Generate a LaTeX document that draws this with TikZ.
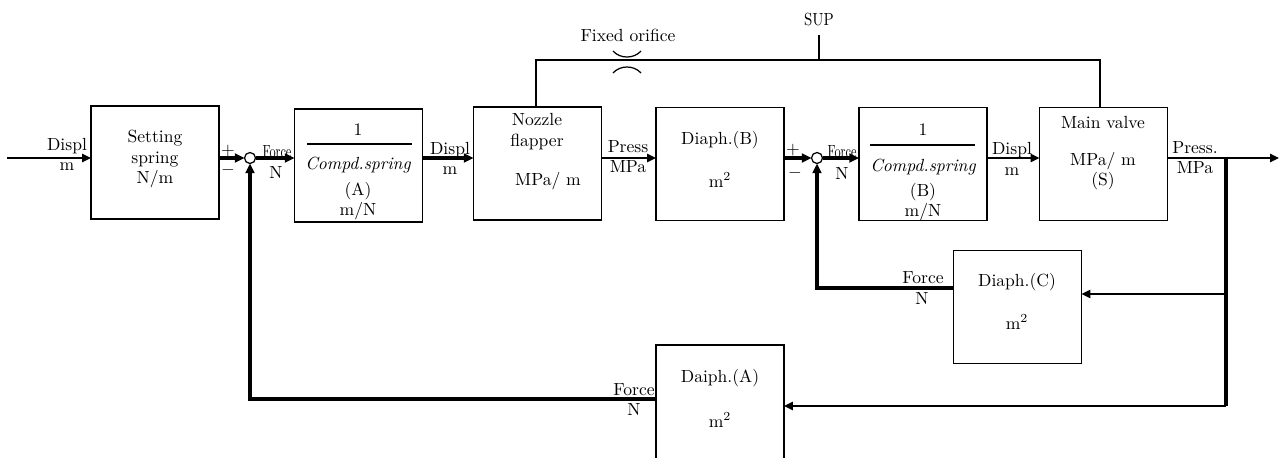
\documentclass[tikz,border=0pt]{standalone}
\usepackage{tikz}
\usepackage{graphicx}
\usetikzlibrary{
  positioning,
  arrows.meta,
  calc
}

\newcommand{\dfont}{\fontsize{10}{11.5}\selectfont}

\begin{document}
\begin{tikzpicture}[
  x=0.02cm, y=-0.02cm,
  every node/.style={font=\dfont},
  block/.style={draw, rectangle, line width=0.7pt, minimum width=2.56cm, minimum height=2.26cm, inner sep=0pt, outer sep=0pt},
  txt/.style={inner sep=0pt, align=center},
  sumjn/.style={draw, circle, line width=0.7pt, minimum size=0.22cm, inner sep=0pt, outer sep=0pt},
  wire/.style={line width=0.7pt},
  fatline/.style={line width=2pt},
  medarrow/.style={line width=1.1pt, -{Triangle[length=5pt, width=4.6pt]}},
  fatarrow/.style={line width=2pt, -{Triangle[length=5.5pt, width=5pt]}}
]
\useasboundingbox (0,0) rectangle (1280,457);

% Nodes
\node[block] (spring) at (155,162.5) {};
\node[block] (compdA) at (358.5,165.5) {};
\node[block] (nozzle) at (537.5,163.5) {};
\node[block] (diaphB) at (720,164) {};
\node[block] (compdB) at (923,164) {};
\node[block] (valve) at (1103.5,164) {};
\node[block] (diaphC) at (1017.5,307) {};
% runs past the bottom edge of the page
\node[block, minimum height=2.7cm] (diaphA) at (720,412.5) {};

\node[sumjn] (sum1) at (250,158) {};
\node[sumjn] (sum2) at (817,158) {};

% Block texts
\node[txt] (spring-t) at (155,159) {Setting\\spring\\N/m};

\node[txt] (compdA-n) at (358,130) {1};
\draw[wire] (307,144) -- (412,144);
\node[txt, font=\dfont\itshape] (compdA-d) at (358,165) {Compd.spring};
\node[txt] (compdA-u) at (358,201) {(A)\\m/N};

\node[txt] (nozzle-t) at (537,131.5) {Nozzle\\flapper};
\node[txt] (nozzle-g) at (548,181) {MPa/ m};

\node[txt] (diaphB-t) at (720,140) {Diaph.(B)};
\node[txt] (diaphB-a) at (720,180) {m$^2$};

\node[txt] (compdB-n) at (923,130) {1};
\draw[wire] (870,145) -- (975,145);
\node[txt, font=\dfont\itshape] (compdB-d) at (923,167) {Compd.spring};
\node[txt] (compdB-u) at (923,202) {(B)\\m/N};

\node[txt] (valve-t) at (1103,122) {Main valve};
\node[txt] (valve-g) at (1103,171) {MPa/ m\\(S)};

\node[txt] (diaphC-t) at (1017,282) {Diaph.(C)};
\node[txt] (diaphC-a) at (1017,322) {m$^2$};

\node[txt] (diaphA-t) at (720,378) {Daiph.(A)};
\node[txt] (diaphA-a) at (720,420) {m$^2$};

% Signal labels
\node[txt] (displ1) at (67,146) {Displ};
\node[txt] (unit1) at (67,167) {m};
\node[txt] (plus1) at (228,151) {$+$};
\node[txt] (minus1) at (228,170) {$-$};
\node[txt] (force1) at (277,152) {\scalebox{0.7}[1]{Force}};
\node[txt] (unit2) at (276,172) {N};
\node[txt] (displ2) at (450,150) {Displ};
\node[txt] (unit3) at (450,171) {m};
\node[txt] (press1) at (628,147) {Press};
\node[txt] (unit4) at (628,167) {MPa};
\node[txt] (plus2) at (793,150) {$+$};
\node[txt] (minus2) at (795,173) {$-$};
\node[txt] (force2) at (842,152) {\scalebox{0.7}[1]{Force}};
\node[txt] (unit5) at (842,173) {N};
\node[txt] (displ3) at (1012,150) {Displ};
\node[txt] (unit6) at (1012,172) {m};
\node[txt] (press2) at (1195,148) {Press.};
\node[txt] (unit7) at (1195,168) {MPa};
\node[txt] (force3) at (923,278) {Force};
\node[txt] (unit8) at (922,298) {N};
\node[txt] (force4) at (634,390) {Force};
\node[txt] (unit9) at (634,409) {N};

% Supply line and orifice
\node[txt] (sup) at (819,19) {\scalebox{0.85}[1]{SUP}};
\node[txt] (orifice) at (628,35) {Fixed orifice};
\coordinate (supL) at (536,60);
\coordinate (supR) at (1100,60);
\coordinate (supT) at (819,60);
\draw[wire] (nozzle.north -| supL) -- (supL) -- (supR) -- (valve.north -| supR);
\draw[wire] (supT) -- ++(0,-25);
\draw[wire] (613,51) .. controls (620,59) and (634,59) .. (641,51);
\draw[wire] (613,73) .. controls (620,65) and (634,65) .. (641,73);

% Arrows
\coordinate (in) at (7,158);
\coordinate (out) at (1279,158);
\coordinate (br) at (1226,158);
\coordinate (tapC) at (1226,294);
\coordinate (tapA) at (1226,406);
\coordinate (fbC) at (953,288);
\coordinate (fbA) at (656,399);

\draw[medarrow] (in) -- (spring.west |- in);
\draw[fatarrow] (spring.east |- sum1) -- (sum1);
\draw[fatarrow] (sum1) -- (compdA.west |- sum1);
\draw[fatarrow] (compdA.east |- sum1) -- (nozzle.west |- sum1);
\draw[medarrow] (nozzle.east |- sum1) -- (diaphB.west |- sum1);
\draw[fatarrow] (diaphB.east |- sum2) -- (sum2);
\draw[fatarrow] (sum2) -- (compdB.west |- sum2);
\draw[medarrow] (compdB.east |- sum2) -- (valve.west |- sum2);
\draw[medarrow] (valve.east |- sum2) -- (out);

\draw[fatline] (br) -- (tapA);
\draw[medarrow] (tapC) -- (diaphC.east |- tapC);
\draw[medarrow] (tapA) -- (diaphA.east |- tapA);

\draw[fatarrow] (diaphC.west |- fbC) -| (sum2);
\draw[fatarrow] (diaphA.west |- fbA) -| (sum1);

\end{tikzpicture}
\end{document}
